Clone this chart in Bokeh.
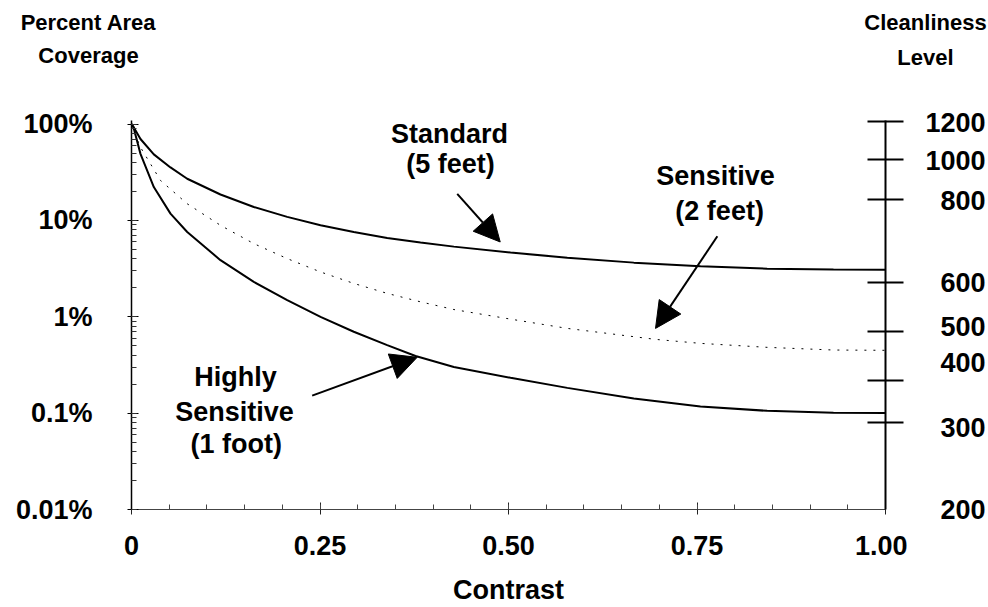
import math
from bokeh.plotting import figure
from bokeh.layouts import column, row
from bokeh.models import (Range1d, FixedTicker, LogTicker, LogAxis, Label, Arrow, NormalHead)
from bokeh.embed import file_html
from bokeh.resources import INLINE

# ---- data ----
std_contrast = [0, 0.0029, 0.0119, 0.0296, 0.0517, 0.0739, 0.118, 0.1622, 0.2065, 0.2507,
                0.2948, 0.3391, 0.3833, 0.4275, 0.5027, 0.578, 0.6662, 0.7546, 0.843, 0.931, 1.0]
std_pct = [100, 93, 70, 48.5, 35.5, 27.1, 18.6, 13.8, 10.9, 8.9,
           7.58, 6.57, 5.89, 5.35, 4.64, 4.11, 3.65, 3.34, 3.16, 3.09, 3.07]

sens_contrast = [0, 0.0053, 0.0119, 0.0385, 0.0739, 0.118, 0.1622, 0.2065, 0.2507,
                 0.2948, 0.3391, 0.3833, 0.4275, 0.5027, 0.578, 0.695, 0.7546, 0.843, 0.931, 1.0]
sens_pct = [100, 76.0, 57.5, 26.0, 14.9, 8.9, 5.75, 4.02, 2.92,
            2.22, 1.75, 1.43, 1.19, 0.946, 0.758, 0.583, 0.530, 0.482, 0.452, 0.449]

high_contrast = [0, 0.0027, 0.0119, 0.0296, 0.0517, 0.0739, 0.118, 0.1622, 0.2065, 0.2507,
                 0.2948, 0.3391, 0.3767, 0.4275, 0.5027, 0.578, 0.6662, 0.7546, 0.843, 0.931, 1.0]
high_pct = [100, 92, 49.1, 22.2, 11.77, 7.59, 3.87, 2.30, 1.489, 1.0,
            0.700, 0.509, 0.392, 0.301, 0.233, 0.183, 0.142, 0.1175, 0.1057, 0.1012, 0.1001]

x_tick_values = [0, 0.25, 0.5, 0.75, 1.0]
x_tick_labels = ["0", "0.25", "0.50", "0.75", "1.00"]
y_tick_values = [0.01, 0.1, 1, 10, 100]
y_tick_labels = ["0.01%", "0.1%", "1%", "10%", "100%"]

# cleanliness scale (right axis): tick marks and label positions, in percent-area units
level_tick_pct = [106.9, 42.9, 16.4, 2.29, 0.711, 0.216, 0.0794]
level_labels = ["1200", "1000", "800", "600", "500", "400", "300", "200"]
level_label_pct = [104.4, 41.9, 16.1, 2.26, 0.787, 0.336, 0.0704, 0.01]

# curve annotations (text, contrast, percent)
notes = [
    ("Standard", 0.4218, 79.7), ("(5 feet)", 0.4231, 38.1),
    ("Sensitive", 0.7745, 28.6), ("(2 feet)", 0.780, 12.4),
    ("Highly", 0.138, 0.238), ("Sensitive", 0.1366, 0.103), ("(1 foot)", 0.139, 0.0481),
]
arrows = [  # (x_start, y_start, x_end, y_end) in contrast / percent
    (0.432, 18.9, 0.489, 5.98),
    (0.777, 6.85, 0.695, 0.758),
    (0.2396, 0.152, 0.3789, 0.380),
]
# header titles (text, x px, y px within header strip)
titles = [
    ("Percent Area", 88, 22), ("Coverage", 88, 55),
    ("Cleanliness", 925, 22), ("Level", 925, 57),
]

FONT = "Liberation Sans"
FS = "27px"
TFS = "22px"

TOTAL_W = 988
HEAD_H = 80
MAIN_H = 527
MAIN_W = 907
B_LEFT, B_RIGHT, B_TOP, B_BOTTOM = 131, 22, 40, 97
Y_LO, Y_HI = 0.01, 109

# ---------- header strip with the two axis titles ----------
head = figure(width=TOTAL_W, height=HEAD_H, x_range=Range1d(0, TOTAL_W),
              y_range=Range1d(HEAD_H, 0), output_backend="svg", toolbar_location=None,
              x_axis_location=None, y_axis_location=None, min_border=0)
head.grid.visible = False
head.outline_line_color = None
for (t, x, y) in titles:
    head.add_layout(Label(x=x, y=y, text=t, text_align="center", text_baseline="middle",
                          text_font=FONT, text_font_style="bold", text_font_size=TFS,
                          text_color="black"))

# ---------- main chart ----------
p = figure(width=MAIN_W, height=MAIN_H, x_range=Range1d(0, 1), y_range=Range1d(Y_LO, Y_HI),
           y_axis_type="log", output_backend="svg", toolbar_location=None,
           min_border_left=B_LEFT, min_border_right=B_RIGHT,
           min_border_top=B_TOP, min_border_bottom=B_BOTTOM)
p.grid.visible = False
p.outline_line_color = None

xa = p.xaxis[0]
xa.ticker = FixedTicker(ticks=x_tick_values,
                        minor_ticks=[round(0.05 * i, 2) for i in range(21)])
xa.major_label_overrides = dict(zip(x_tick_values, x_tick_labels))
xa.major_tick_in = 7
xa.major_tick_out = 5
xa.minor_tick_in = 5
xa.minor_tick_out = 0
xa.axis_line_color = "#444444"
xa.major_tick_line_color = "#222222"
xa.minor_tick_line_color = "#444444"
xa.major_label_text_font = FONT
xa.major_label_text_font_style = "bold"
xa.major_label_text_font_size = FS
xa.major_label_text_color = "black"
xa.major_label_standoff = 21
xa.axis_label = "Contrast"
xa.axis_label_text_font = FONT
xa.axis_label_text_font_style = "bold"
xa.axis_label_text_font_size = FS
xa.axis_label_text_color = "black"
xa.axis_label_standoff = 17

ya = p.yaxis[0]
ya.ticker = LogTicker(num_minor_ticks=10)
ya.major_label_overrides = dict(zip(y_tick_values, y_tick_labels))
ya.major_tick_in = 7
ya.major_tick_out = 4
ya.minor_tick_in = 5
ya.minor_tick_out = 0
ya.axis_line_color = "black"
ya.axis_line_width = 1.5
ya.major_tick_line_color = "black"
ya.minor_tick_line_color = "#333333"
ya.major_label_text_font = FONT
ya.major_label_text_font_style = "bold"
ya.major_label_text_font_size = FS
ya.major_label_text_color = "black"
ya.major_label_standoff = 35

ra = LogAxis(ticker=FixedTicker(ticks=level_tick_pct, minor_ticks=[]),
             major_tick_in=18, major_tick_out=18, minor_tick_in=0, minor_tick_out=0,
             axis_line_width=2, major_tick_line_width=2, major_label_standoff=0,
             major_label_overrides={t: "" for t in level_tick_pct})
p.add_layout(ra, "right")

p.line(std_contrast, std_pct, line_color="black", line_width=2)
p.line(high_contrast, high_pct, line_color="black", line_width=2)
p.line(sens_contrast, sens_pct, line_color="black", line_width=1, line_dash="2 7")

for (x0, y0, x1, y1) in arrows:
    p.add_layout(Arrow(x_start=x0, y_start=y0, x_end=x1, y_end=y1, line_width=2,
                       line_color="black",
                       end=NormalHead(size=26, fill_color="black", line_color="black")))

for (t, x, y) in notes:
    p.add_layout(Label(x=x, y=y, text=t, text_align="center", text_baseline="middle",
                       text_font=FONT, text_font_style="bold", text_font_size=FS,
                       text_color="black"))

# ---------- narrow strip on the right: its (left) axis carries the level labels ----------
side_w = TOTAL_W - MAIN_W
side = figure(width=side_w, height=MAIN_H, x_range=Range1d(0, 1),
              y_range=p.y_range, y_axis_type="log", y_axis_location="left",
              x_axis_location=None, output_backend="svg", toolbar_location=None,
              min_border_left=side_w - 2, min_border_right=0,
              min_border_top=B_TOP, min_border_bottom=B_BOTTOM)
side.grid.visible = False
side.outline_line_color = None
sa = side.yaxis[0]
sa.ticker = FixedTicker(ticks=level_label_pct, minor_ticks=[])
sa.major_label_overrides = dict(zip(level_label_pct, level_labels))
sa.axis_line_color = None
sa.major_tick_in = 0
sa.major_tick_out = 0
sa.minor_tick_in = 0
sa.minor_tick_out = 0
sa.major_label_standoff = 1
sa.major_label_text_font = FONT
sa.major_label_text_font_style = "bold"
sa.major_label_text_font_size = FS
sa.major_label_text_color = "black"

layout = column(head, row(p, side, spacing=0), spacing=0)
open("out.html", "w").write(file_html(layout, INLINE))
